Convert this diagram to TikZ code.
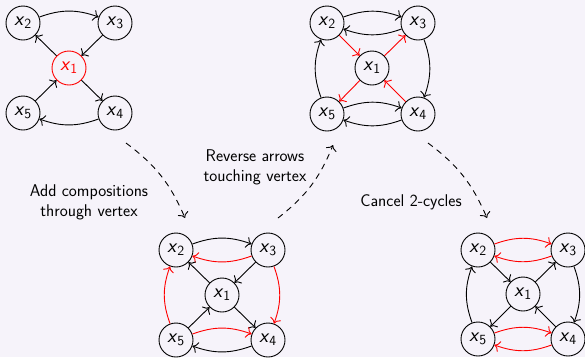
\documentclass[tikz,border=0pt]{standalone}
\usetikzlibrary{arrows.meta}

\definecolor{canvas}{RGB}{246,243,250}
\newcommand\vtxfont{\fontsize{20}{22}\selectfont\sffamily}
\newcommand\capfont{\fontsize{17}{20}\selectfont\sffamily}
\newcommand\xv[1]{\textsl{x}\textsubscript{#1}}

\tikzset{
  vtx/.style={circle,draw,line width=0.9pt,minimum size=34pt,inner sep=0pt,font=\vtxfont},
  hot/.style={draw=red,text=red},
  edge/.style={-{To[scale=1.5]},line width=0.9pt},
  redge/.style={edge,draw=red},
  flow/.style={-{To[scale=1.5]},line width=0.9pt,dash pattern=on 6pt off 5pt},
  caption/.style={align=center,font=\capfont,inner sep=0pt},
  bl/.style={bend left=20}
}

\begin{document}
\begin{tikzpicture}[x=1pt,y=-1pt]
  \useasboundingbox[fill=canvas] (0,0) rectangle (585,357);

  % first quiver: the vertex x1 to be mutated
  \begin{scope}[shift={(23,23)}]
    \node[vtx] (a2) at (0,0) {\xv2};
    \node[vtx] (a3) at (92,0) {\xv3};
    \node[vtx,hot] (a1) at (46,45) {\xv1};
    \node[vtx] (a5) at (0,90) {\xv5};
    \node[vtx] (a4) at (92,90) {\xv4};
  \end{scope}
  \draw[edge] (a2) to[bl] (a3);
  \draw[edge] (a3) -- (a1);
  \draw[edge] (a1) -- (a2);
  \draw[edge] (a1) -- (a4);
  \draw[edge] (a4) to[bl] (a5);
  \draw[edge] (a5) -- (a1);

  % second quiver: compositions added
  \begin{scope}[shift={(176,250)}]
    \node[vtx] (c2) at (0,0) {\xv2};
    \node[vtx] (c3) at (92,0) {\xv3};
    \node[vtx] (c1) at (46,45) {\xv1};
    \node[vtx] (c5) at (0,90) {\xv5};
    \node[vtx] (c4) at (92,90) {\xv4};
  \end{scope}
  \draw[edge] (c2) to[bl] (c3);
  \draw[redge] (c3) to[bl] (c2);
  \draw[edge] (c3) -- (c1);
  \draw[edge] (c1) -- (c2);
  \draw[edge] (c1) -- (c4);
  \draw[edge] (c5) -- (c1);
  \draw[redge] (c5) to[bl] (c2);
  \draw[redge] (c3) to[bl] (c4);
  \draw[redge] (c5) to[bl] (c4);
  \draw[edge] (c4) to[bl] (c5);

  % third quiver: arrows at x1 reversed
  \begin{scope}[shift={(327,23)}]
    \node[vtx] (b2) at (0,0) {\xv2};
    \node[vtx] (b3) at (91,0) {\xv3};
    \node[vtx] (b1) at (45,45) {\xv1};
    \node[vtx] (b5) at (0,91) {\xv5};
    \node[vtx] (b4) at (91,91) {\xv4};
  \end{scope}
  \draw[edge] (b2) to[bl] (b3);
  \draw[edge] (b3) to[bl] (b2);
  \draw[edge] (b5) to[bl] (b4);
  \draw[edge] (b4) to[bl] (b5);
  \draw[edge] (b5) to[bl] (b2);
  \draw[edge] (b3) to[bl] (b4);
  \draw[redge] (b2) -- (b1);
  \draw[redge] (b1) -- (b3);
  \draw[redge] (b1) -- (b5);
  \draw[redge] (b4) -- (b1);

  % fourth quiver: 2-cycles cancelled
  \begin{scope}[shift={(478,250)}]
    \node[vtx] (d2) at (0,0) {\xv2};
    \node[vtx] (d3) at (90,0) {\xv3};
    \node[vtx] (d1) at (45,44) {\xv1};
    \node[vtx] (d5) at (0,89) {\xv5};
    \node[vtx] (d4) at (90,89) {\xv4};
  \end{scope}
  \draw[redge] (d2) to[bl] (d3);
  \draw[redge] (d3) to[bl] (d2);
  \draw[redge] (d5) to[bl] (d4);
  \draw[redge] (d4) to[bl] (d5);
  \draw[edge] (d5) to[bl] (d2);
  \draw[edge] (d3) to[bl] (d4);
  \draw[edge] (d2) -- (d1);
  \draw[edge] (d1) -- (d3);
  \draw[edge] (d4) -- (d1);
  \draw[edge] (d1) -- (d5);

  % steps between the quivers
  \coordinate (s1) at (126,143);
  \coordinate (e1) at (185,218);
  \coordinate (s2) at (278,218);
  \coordinate (e2) at (333,145);
  \coordinate (s3) at (428,143);
  \coordinate (e3) at (487,218);
  \draw[flow] (s1) to[bend left=15] (e1);
  \draw[flow] (s2) to[bend right=15] (e2);
  \draw[flow] (s3) to[bend left=15] (e3);

  \node[caption] (t1) at (89,202) {Add compositions\\through vertex};
  \node[caption] (t2) at (255,167) {Reverse arrows\\touching vertex};
  \node[caption] (t3) at (411,202) {Cancel 2-cycles};
\end{tikzpicture}
\end{document}
